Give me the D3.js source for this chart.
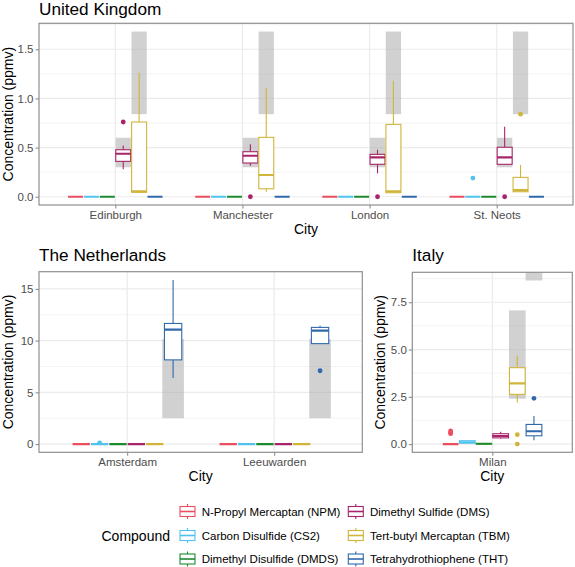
<!DOCTYPE html>
<html><head><meta charset="utf-8">
<script src="https://cdn.jsdelivr.net/npm/d3@7"></script>
<style>
body{margin:0;background:#fff}
svg{display:block}
text{font-family:"Liberation Sans",Arial,Helvetica,sans-serif}
</style>
</head><body>
<svg id="c" width="575" height="567"></svg>
<script>
const compounds = ["NPM","CS2","DMDS","DMS","TBM","THT"];
const compoundLabels = ["N-Propyl Mercaptan (NPM)","Carbon Disulfide (CS2)","Dimethyl Disulfide (DMDS)",
  "Dimethyl Sulfide (DMS)","Tert-butyl Mercaptan (TBM)","Tetrahydrothiophene (THT)"];
const compoundColors = ["#EB4E5E","#4FC3EE","#1E8A2E","#A8246A","#D1B53A","#2F69AC"];

// United Kingdom
const ukCities = ["Edinburgh","Manchester","London","St. Neots"];
// [city, compound, lowerWhisker, q1, median, q3, upperWhisker]
const ukBoxes = [
  ["Edinburgh","NPM",0,0,0,0,0],["Edinburgh","CS2",0,0,0,0,0],["Edinburgh","DMDS",0,0,0,0,0],
  ["Edinburgh","DMS",0.28,0.36,0.437,0.478,0.52],["Edinburgh","TBM",0.045,0.045,0.055,0.76,1.26],["Edinburgh","THT",0,0,0,0,0],
  ["Manchester","NPM",0,0,0,0,0],["Manchester","CS2",0,0,0,0,0],["Manchester","DMDS",0,0,0,0,0],
  ["Manchester","DMS",0.315,0.343,0.417,0.458,0.533],["Manchester","TBM",0.051,0.081,0.221,0.604,1.106],["Manchester","THT",0,0,0,0,0],
  ["London","NPM",0,0,0,0,0],["London","CS2",0,0,0,0,0],["London","DMDS",0,0,0,0,0],
  ["London","DMS",0.238,0.33,0.40,0.431,0.478],["London","TBM",0.041,0.041,0.055,0.736,1.18],["London","THT",0,0,0,0,0],
  ["St. Neots","NPM",0,0,0,0,0],["St. Neots","CS2",0,0,0,0,0],["St. Neots","DMDS",0,0,0,0,0],
  ["St. Neots","DMS",0.33,0.33,0.40,0.503,0.712],["St. Neots","TBM",0.051,0.051,0.068,0.197,0.322],["St. Neots","THT",0,0,0,0,0]
];
const ukOutliers = [["Edinburgh","DMS",0.76],["Manchester","DMS",0],["London","DMS",0],
  ["St. Neots","DMS",0],["St. Neots","CS2",0.19],["St. Neots","TBM",0.84]];
const ukRanges = [["DMS",0.3,0.6],["TBM",0.84,1.68]];
const ukTicks = [0,0.5,1,1.5];
const ukMinor = [0.25,0.75,1.25,1.75];

// The Netherlands
const nlCities = ["Amsterdam","Leeuwarden"];
const nlBoxes = [
  ["Amsterdam","NPM",0,0,0,0,0],["Amsterdam","CS2",0,0,0,0,0],["Amsterdam","DMDS",0,0,0,0,0],
  ["Amsterdam","DMS",0,0,0,0,0],["Amsterdam","TBM",0,0,0,0,0],["Amsterdam","THT",6.38,8.14,11.06,11.66,15.87],
  ["Leeuwarden","NPM",0,0,0,0,0],["Leeuwarden","CS2",0,0,0,0,0],["Leeuwarden","DMDS",0,0,0,0,0],
  ["Leeuwarden","DMS",0,0,0,0,0],["Leeuwarden","TBM",0,0,0,0,0],["Leeuwarden","THT",9.71,9.71,10.96,11.28,11.44]
];
const nlOutliers = [["Amsterdam","CS2",0.12],["Leeuwarden","THT",7.09]];
const nlRanges = [["THT",2.5,10.15]];
const nlTicks = [0,5,10,15];
const nlMinor = [2.5,7.5,12.5];

// Italy
const itCities = ["Milan"];
const itBoxes = [
  ["Milan","NPM",0,0,0,0,0],["Milan","CS2",0.04,0.05,0.1,0.18,0.19],["Milan","DMDS",0.01,0.01,0.02,0.02,0.03],
  ["Milan","DMS",0.3,0.33,0.43,0.55,0.66],["Milan","TBM",2.2,2.63,3.21,4.04,4.68],["Milan","THT",0.21,0.44,0.68,1.04,1.48]
];
const itOutliers = [["Milan","NPM",0.55],["Milan","NPM",0.62],["Milan","NPM",0.7],
  ["Milan","TBM",0.5],["Milan","TBM",0],["Milan","THT",2.42]];
const itRanges = [["TBM",2.4,7.07],["THT",8.65,Infinity]];
const itTicks = [0,2.5,5,7.5];
const itMinor = [1.25,3.75,6.25,8.75];

const svg = d3.select("#c");
const colorOf = d3.scaleOrdinal().domain(compounds).range(compoundColors);
const GRID = "#ebebeb", BORDER = "#8f8f8f", TICKTXT = "#4d4d4d";

function panel(cfg){
  const {title, cities, boxes, outliers, ranges, ticks, minor, fmt, left, right, top, bottom, rectW, titleY, yTitleX} = cfg;
  const g = svg.append("g");
  const x = d3.scalePoint().domain(cities).range([left, right]).padding(0.6);
  const step = x.step();
  const vals = [];
  boxes.forEach(b => vals.push(b[2], b[6]));
  outliers.forEach(o => vals.push(o[2]));
  ranges.forEach(r => { vals.push(r[1]); if (isFinite(r[2])) vals.push(r[2]); });
  const mn = Math.min(0, d3.min(vals)), mx = d3.max(vals);
  const pad = (mx - mn) * 0.05;
  const y = d3.scaleLinear().domain([mn - pad, mx + pad]).range([bottom, top]);
  const slot = 0.125 * step, boxW = 0.118 * step;
  const cx = (city, comp) => x(city) + (compounds.indexOf(comp) - 2.5) * slot;

  const clipId = "clip" + Math.round(left) + "_" + Math.round(top);
  g.append("clipPath").attr("id", clipId).append("rect")
    .attr("x", left).attr("y", top).attr("width", right-left).attr("height", bottom-top);
  const p = g.append("g").attr("clip-path", `url(#${clipId})`);

  // grid
  p.selectAll(".mi").data(minor).join("line")
    .attr("x1", left).attr("x2", right).attr("y1", d => y(d)).attr("y2", d => y(d))
    .attr("stroke", GRID).attr("stroke-width", 0.6);
  p.selectAll(".ma").data(ticks).join("line")
    .attr("x1", left).attr("x2", right).attr("y1", d => y(d)).attr("y2", d => y(d))
    .attr("stroke", GRID).attr("stroke-width", 1.2);
  p.selectAll(".vx").data(cities).join("line")
    .attr("x1", d => x(d)).attr("x2", d => x(d)).attr("y1", top).attr("y2", bottom)
    .attr("stroke", GRID).attr("stroke-width", 1.2);

  // reference ranges
  const rw = rectW * step;
  const rects = [];
  cities.forEach(c => ranges.forEach(r => rects.push([c, r[0], r[1], r[2]])));
  p.selectAll(".rr").data(rects).join("rect")
    .attr("x", d => cx(d[0], d[1]) - rw/2).attr("width", rw)
    .attr("y", d => isFinite(d[3]) ? y(d[3]) : top - 2)
    .attr("height", d => y(d[2]) - (isFinite(d[3]) ? y(d[3]) : top - 2))
    .attr("fill", "#b3b3b3").attr("fill-opacity", 0.6);

  // boxes
  const bg = p.selectAll(".bx").data(boxes).join("g");
  bg.append("line")
    .attr("x1", d => cx(d[0], d[1])).attr("x2", d => cx(d[0], d[1]))
    .attr("y1", d => y(d[2])).attr("y2", d => y(d[3]))
    .attr("stroke", d => colorOf(d[1])).attr("stroke-width", 1.1);
  bg.append("line")
    .attr("x1", d => cx(d[0], d[1])).attr("x2", d => cx(d[0], d[1]))
    .attr("y1", d => y(d[5])).attr("y2", d => y(d[6]))
    .attr("stroke", d => colorOf(d[1])).attr("stroke-width", 1.1);
  bg.append("rect")
    .attr("x", d => cx(d[0], d[1]) - boxW/2).attr("width", boxW)
    .attr("y", d => y(d[5])).attr("height", d => y(d[3]) - y(d[5]))
    .attr("fill", "#fff").attr("stroke", d => colorOf(d[1])).attr("stroke-width", 1.1);
  bg.append("line")
    .attr("x1", d => cx(d[0], d[1]) - boxW/2).attr("x2", d => cx(d[0], d[1]) + boxW/2)
    .attr("y1", d => y(d[4])).attr("y2", d => y(d[4]))
    .attr("stroke", d => colorOf(d[1])).attr("stroke-width", 2.2);

  // outliers
  p.selectAll(".ol").data(outliers).join("circle")
    .attr("cx", d => cx(d[0], d[1])).attr("cy", d => y(d[2])).attr("r", 2.4)
    .attr("fill", d => colorOf(d[1]));

  // border
  g.append("rect").attr("x", left).attr("y", top).attr("width", right-left).attr("height", bottom-top)
    .attr("fill", "none").attr("stroke", BORDER).attr("stroke-width", 1.2);

  // axes
  const ya = g.append("g").attr("transform", `translate(${left},0)`)
    .call(d3.axisLeft(y).tickValues(ticks).tickFormat(fmt).tickSize(3.5).tickPadding(2));
  const xa = g.append("g").attr("transform", `translate(0,${bottom})`)
    .call(d3.axisBottom(x).tickSize(3.5).tickPadding(2.5));
  [ya, xa].forEach(a => {
    a.select(".domain").remove();
    a.selectAll(".tick line").attr("stroke", BORDER).attr("stroke-width", 1.1);
    a.selectAll(".tick text").attr("fill", TICKTXT).style("font-size", "11.5px")
      .style("font-family", '"Liberation Sans",Arial,sans-serif');
  });

  // titles
  g.append("text").attr("x", left).attr("y", titleY).text(title)
    .style("font-size", "17.2px").attr("fill", "#000");
  g.append("text").attr("x", (left+right)/2).attr("y", bottom + 28.5).attr("text-anchor", "middle")
    .text("City").style("font-size", "14px");
  g.append("text").attr("transform", `translate(${yTitleX},${(top+bottom)/2}) rotate(-90)`)
    .attr("text-anchor", "middle").text("Concentration (ppmv)").style("font-size", "14px");
}

panel({title:"United Kingdom", cities:ukCities, boxes:ukBoxes, outliers:ukOutliers, ranges:ukRanges,
  ticks:ukTicks, minor:ukMinor, fmt:d3.format(".1f"), left:39, right:573, top:23.3, bottom:205, rectW:0.12,
  titleY:14.8, yTitleX:13.3});
panel({title:"The Netherlands", cities:nlCities, boxes:nlBoxes, outliers:nlOutliers, ranges:nlRanges,
  ticks:nlTicks, minor:nlMinor, fmt:d3.format("d"), left:39, right:362.3, top:271.7, bottom:452.3, rectW:0.147,
  titleY:260.6, yTitleX:13.3});
panel({title:"Italy", cities:itCities, boxes:itBoxes, outliers:itOutliers, ranges:itRanges,
  ticks:itTicks, minor:itMinor, fmt:d3.format(".1f"), left:412.3, right:572.3, top:272.3, bottom:452.3, rectW:0.125,
  titleY:260.6, yTitleX:385.2});

// legend
const leg = svg.append("g");
leg.append("text").attr("x", 101.5).attr("y", 541).text("Compound").style("font-size", "14px");
const rowsY = [511.5, 535.5, 559];
const colKeyX = [180, 348.3];
compounds.forEach((c, i) => {
  const col = Math.floor(i / 3), row = i % 3;
  const kx = colKeyX[col], cy = rowsY[row];
  const col_ = colorOf(c);
  const k = leg.append("g");
  k.append("line").attr("x1", kx+7.5).attr("x2", kx+7.5).attr("y1", cy-7.5).attr("y2", cy+7.5)
    .attr("stroke", col_).attr("stroke-width", 1.1);
  k.append("rect").attr("x", kx).attr("y", cy-5).attr("width", 15).attr("height", 10)
    .attr("fill", "#fff").attr("stroke", col_).attr("stroke-width", 1.1);
  k.append("line").attr("x1", kx).attr("x2", kx+15).attr("y1", cy).attr("y2", cy)
    .attr("stroke", col_).attr("stroke-width", 1.6);
  leg.append("text").attr("x", kx + 21.7).attr("y", cy + 4.1).text(compoundLabels[i])
    .style("font-size", "11.5px").attr("fill", "#000");
});
</script>
</body></html>
